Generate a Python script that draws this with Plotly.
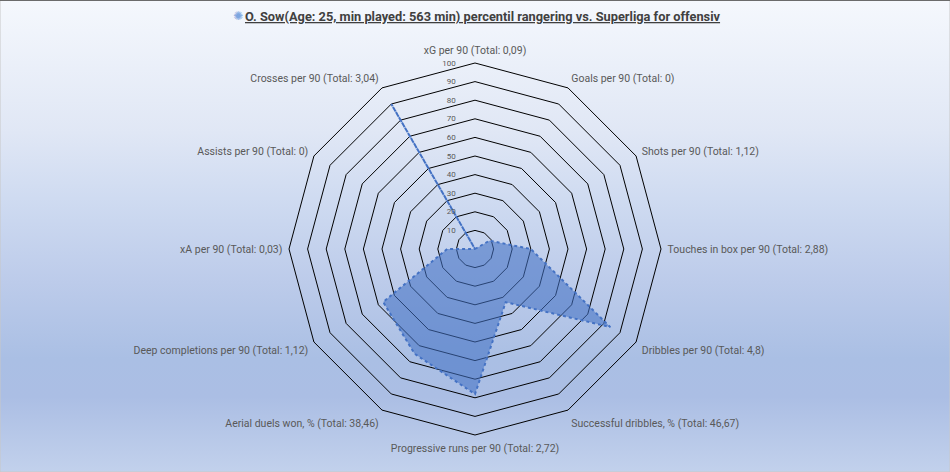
import base64
import plotly.graph_objects as go

categories = [
    "xG per 90 (Total: 0,09)",
    "Goals per 90 (Total: 0)",
    "Shots per 90 (Total: 1,12)",
    "Touches in box per 90 (Total: 2,88)",
    "Dribbles per 90 (Total: 4,8)",
    "Successful dribbles, % (Total: 46,67)",
    "Progressive runs per 90 (Total: 2,72)",
    "Aerial duels won, % (Total: 38,46)",
    "Deep completions per 90 (Total: 1,12)",
    "xA per 90 (Total: 0,03)",
    "Assists per 90 (Total: 0)",
    "Crosses per 90 (Total: 3,04)",
]
percentiles = [0, 0, 9, 30, 84, 33, 78, 65, 57, 15, 0, 90]
radial_ticks = [10, 20, 30, 40, 50, 60, 70, 80, 90, 100]
title_text = "O. Sow(Age: 25, min played: 563 min) percentil rangering vs. Superliga for offensiv"

W, H = 950, 472
cx, cy, R = 475, 249, 186

svg = f"""<svg xmlns='http://www.w3.org/2000/svg' width='{W}' height='{H}' preserveAspectRatio='none'>
<defs><linearGradient id='g' x1='0' y1='0' x2='0' y2='1'>
<stop offset='0' stop-color='#f5f8fd'/>
<stop offset='0.28' stop-color='#e0e7f5'/>
<stop offset='0.42' stop-color='#cfdbf1'/>
<stop offset='0.6' stop-color='#bccbea'/>
<stop offset='0.76' stop-color='#aabfe4'/>
<stop offset='0.84' stop-color='#abbee4'/>
<stop offset='1' stop-color='#c2d1ec'/>
</linearGradient></defs>
<rect width='{W}' height='{H}' fill='url(#g)'/>
</svg>"""
bg_uri = "data:image/svg+xml;base64," + base64.b64encode(svg.encode()).decode()

fig = go.Figure()
fig.add_trace(go.Scatterpolar(
    r=percentiles + percentiles[:1],
    theta=categories + categories[:1],
    mode="lines",
    fill="toself",
    fillcolor="rgba(68,114,196,0.58)",
    line=dict(color="#4472c4", width=2, dash="dot"),
    hoverinfo="skip",
))

fig.update_layout(
    width=W, height=H,
    margin=dict(l=0, r=0, t=0, b=0),
    paper_bgcolor="rgba(0,0,0,0)",
    plot_bgcolor="rgba(0,0,0,0)",
    showlegend=False,
    font=dict(family="Roboto", color="#595959"),
    images=[dict(source=bg_uri, xref="paper", yref="paper", x=0, y=1,
                 sizex=1, sizey=1, sizing="stretch", layer="below",
                 xanchor="left", yanchor="top")],
    polar=dict(
        domain=dict(x=[(cx - R) / W, (cx + R) / W],
                    y=[1 - (cy + R) / H, 1 - (cy - R) / H]),
        bgcolor="rgba(0,0,0,0)",
        gridshape="linear",
        radialaxis=dict(
            range=[0, 100], tickvals=radial_ticks, angle=90,
            side="counterclockwise", tickangle=90,
            showline=False, ticks="outside", ticklen=16,
            tickcolor="rgba(0,0,0,0)",
            gridcolor="#000000", gridwidth=1,
            tickfont=dict(size=8, color="#595959"),
        ),
        angularaxis=dict(
            rotation=90, direction="clockwise",
            showgrid=False, ticks="outside", ticklen=4,
            tickcolor="rgba(0,0,0,0)",
            showline=True, linecolor="#000000", linewidth=1,
            tickfont=dict(size=10.5, color="#595959"),
        ),
    ),
    shapes=[
        dict(type="rect", xref="paper", yref="paper", x0=0, y0=0, x1=1, y1=1,
             line=dict(color="#c8c8c8", width=1), layer="above"),
        dict(type="line", xref="paper", yref="paper", x0=0, y0=1, x1=1, y1=1,
             line=dict(color="#6b6b6b", width=2), layer="above"),
    ],
    annotations=[
        dict(text="<b>" + title_text + "</b>", xref="paper", yref="paper",
             x=483.5 / W, y=1 - 16 / H, xanchor="center", yanchor="middle",
             showarrow=False,
             font=dict(family="Roboto", size=12.8, color="#404040", lineposition="under")),
        dict(text="✺", xref="paper", yref="paper",
             x=238 / W, y=1 - 16 / H, xanchor="center", yanchor="middle",
             showarrow=False, font=dict(family="DejaVu Sans", size=12, color="#7ea6e0")),
    ],
)

fig.write_html("out.html")
